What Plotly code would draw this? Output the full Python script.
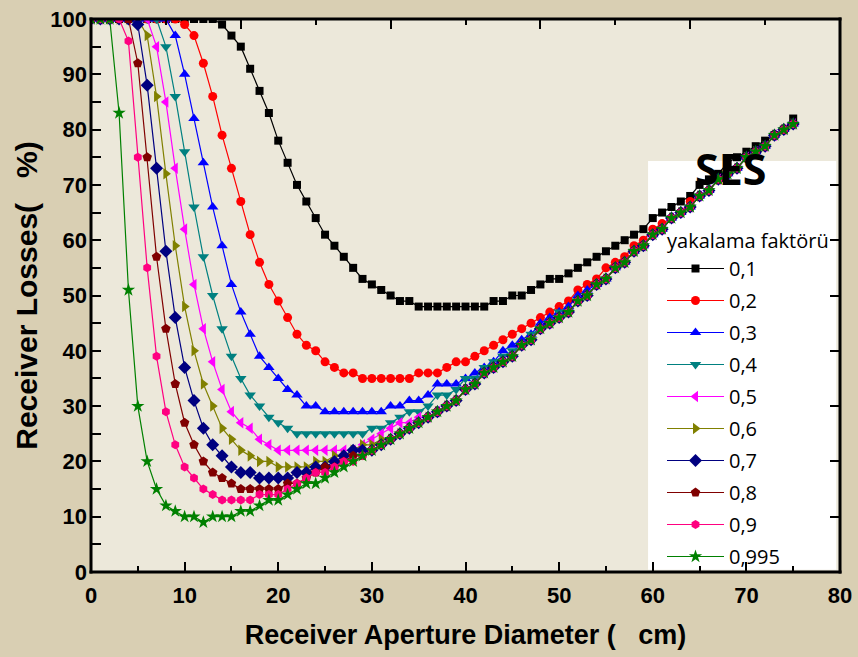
import plotly.graph_objects as go

diameter_cm = list(range(0, 76))
factor_labels = ["0,1", "0,2", "0,3", "0,4", "0,5", "0,6", "0,7", "0,8", "0,9", "0,995"]

loss_01 = [100, 100, 100, 100, 100, 100, 100, 100, 100, 100, 100, 100, 100, 100, 99, 97, 95, 91, 87, 83,
           78, 74, 70, 67, 64, 61, 59, 57, 55, 53, 52, 51, 50, 49, 49, 48, 48, 48, 48, 48,
           48, 48, 48, 49, 49, 50, 50, 51, 52, 53, 53, 54, 55, 56, 57, 58, 59, 60, 61, 62,
           64, 65, 66, 67, 68, 70, 71, 72, 74, 75, 76, 77, 78, 79, 80, 82]
loss_02 = [100, 100, 100, 100, 100, 100, 100, 100, 100, 100, 99, 97, 92, 86, 79, 73, 67, 61, 56, 52,
           49, 46, 43, 41, 40, 38, 37, 36, 36, 35, 35, 35, 35, 35, 35, 36, 36, 36, 37, 38,
           38, 39, 40, 41, 42, 43, 44, 45, 46, 47, 48, 49, 51, 52, 53, 55, 56, 57, 59, 60,
           62, 63, 64, 65, 67, 68, 69, 71, 72, 73, 75, 76, 77, 79, 80, 81]
loss_03 = [100, 100, 100, 100, 100, 100, 100, 100, 100, 97, 90, 82, 74, 66, 59, 52, 47, 43, 39, 37,
           35, 33, 32, 30, 30, 29, 29, 29, 29, 29, 29, 29, 30, 30, 31, 31, 32, 34, 34, 34,
           35, 36, 37, 38, 40, 41, 42, 43, 45, 46, 47, 48, 50, 51, 52, 53, 55, 56, 58, 59,
           61, 62, 64, 65, 66, 68, 69, 71, 72, 73, 75, 76, 77, 79, 80, 81]
loss_04 = [100, 100, 100, 100, 100, 100, 100, 100, 95, 86, 76, 66, 57, 50, 44, 39, 35, 32, 30, 28,
           27, 26, 25, 25, 25, 25, 25, 25, 25, 25, 26, 26, 27, 28, 29, 29, 30, 32, 32, 33,
           35, 35, 37, 38, 39, 40, 41, 43, 44, 45, 47, 47, 49, 50, 52, 53, 55, 56, 58, 59,
           61, 62, 64, 65, 66, 68, 69, 71, 72, 73, 75, 76, 77, 79, 80, 81]
loss_05 = [100, 100, 100, 100, 100, 100, 100, 95, 85, 73, 62, 52, 44, 38, 33, 29, 27, 26, 24, 23,
           22, 22, 22, 22, 22, 22, 22, 22, 22, 23, 24, 25, 26, 27, 27, 28, 28, 29, 30, 31,
           33, 34, 36, 37, 38, 39, 41, 42, 44, 45, 46, 47, 49, 50, 52, 53, 55, 56, 58, 59,
           61, 62, 64, 65, 66, 68, 69, 71, 72, 73, 75, 76, 77, 79, 80, 81]
loss_06 = [100, 100, 100, 100, 100, 100, 97, 86, 72, 59, 48, 40, 34, 30, 26, 24, 22, 21, 20, 20,
           19, 19, 19, 19, 20, 20, 21, 21, 22, 23, 23, 24, 24, 25, 26, 27, 28, 29, 30, 31,
           33, 34, 36, 37, 38, 39, 41, 42, 44, 45, 46, 47, 49, 50, 52, 53, 55, 56, 58, 59,
           61, 62, 64, 65, 66, 68, 69, 71, 72, 73, 75, 76, 77, 79, 80, 81]
loss_07 = [100, 100, 100, 100, 100, 99, 88, 73, 58, 46, 37, 31, 26, 23, 21, 19, 18, 18, 17, 17,
           17, 17, 18, 18, 19, 19, 20, 21, 22, 22, 22, 23, 24, 25, 26, 27, 28, 29, 30, 31,
           33, 34, 36, 37, 38, 39, 41, 42, 44, 45, 46, 47, 49, 50, 52, 53, 55, 56, 58, 59,
           61, 62, 64, 65, 66, 68, 69, 71, 72, 73, 75, 76, 77, 79, 80, 81]
loss_08 = [100, 100, 100, 100, 100, 92, 75, 57, 44, 34, 27, 23, 20, 18, 17, 16, 15, 15, 15, 15,
           15, 16, 16, 17, 18, 19, 19, 20, 21, 21, 22, 23, 24, 25, 26, 27, 28, 29, 30, 31,
           33, 34, 36, 37, 38, 39, 41, 42, 44, 45, 46, 47, 49, 50, 52, 53, 55, 56, 58, 59,
           61, 62, 64, 65, 66, 68, 69, 71, 72, 73, 75, 76, 77, 79, 80, 81]
loss_09 = [100, 100, 100, 100, 96, 75, 55, 39, 29, 23, 19, 17, 15, 14, 13, 13, 13, 13, 14, 14,
           14, 15, 16, 17, 18, 18, 19, 20, 20, 21, 22, 23, 24, 25, 26, 27, 28, 29, 30, 31,
           33, 34, 36, 37, 38, 39, 41, 42, 44, 45, 46, 47, 49, 50, 52, 53, 55, 56, 58, 59,
           61, 62, 64, 65, 66, 68, 69, 71, 72, 73, 75, 76, 77, 79, 80, 81]
loss_0995 = [100, 100, 100, 83, 51, 30, 20, 15, 12, 11, 10, 10, 9, 10, 10, 10, 11, 11, 12, 13,
             13, 14, 15, 16, 16, 17, 18, 19, 20, 21, 22, 23, 24, 25, 26, 27, 28, 29, 30, 31,
             33, 34, 36, 37, 38, 39, 41, 42, 44, 45, 46, 47, 49, 50, 52, 53, 55, 56, 58, 59,
             61, 62, 64, 65, 66, 68, 69, 71, 72, 73, 75, 76, 77, 79, 80, 81]

series = [loss_01, loss_02, loss_03, loss_04, loss_05, loss_06, loss_07, loss_08, loss_09, loss_0995]
colors = ["#000000", "#FF0000", "#0000FF", "#008080", "#FF00FF", "#808000",
          "#000080", "#800000", "#FF0080", "#008000"]
symbols = ["square", "circle", "triangle-up", "triangle-down", "triangle-left",
           "triangle-right", "diamond", "pentagon", "hexagon", "star"]
msizes = [8, 9, 10, 10, 10, 10, 10, 10, 9, 10]

fig = go.Figure()
for i, (lab, vals) in enumerate(zip(factor_labels, series)):
    fig.add_trace(go.Scatter(
        x=diameter_cm, y=vals, name=lab, mode="lines+markers",
        legendgroup=lab,
        line=dict(color=colors[i], width=1.2),
        marker=dict(symbol=symbols[i], color=colors[i], size=msizes[i], line=dict(width=0)),
    ))

# helper (empty) trace so the top/right tick axes get drawn
fig.add_trace(go.Scatter(x=[None], y=[None], xaxis="x2", yaxis="y2", showlegend=False,
                         hoverinfo="skip", mode="lines"))

tick_font = dict(family="Liberation Sans, Arial, sans-serif", size=22, color="#000000", weight="bold")
xtitle_font = dict(family="Liberation Sans, Arial, sans-serif", size=27, color="#000000", weight="bold")
ytitle_font = dict(family="Liberation Sans, Arial, sans-serif", size=30, color="#000000", weight="bold")
tickstyle = dict(ticks="inside", ticklen=10, tickwidth=2, tickcolor="#000000")

# plot-frame thickness as fractions of the plot area (3 px)
fx = 1.5 / 749
fy = 1.5 / 553
frame = [
    dict(x0=-fx, x1=fx, y0=-fy, y1=1 + fy),
    dict(x0=1 - fx, x1=1 + fx, y0=-fy, y1=1 + fy),
    dict(x0=-fx, x1=1 + fx, y0=-fy, y1=fy),
    dict(x0=-fx, x1=1 + fx, y0=1 - fy, y1=1 + fy),
]
frame_shapes = [dict(type="rect", xref="paper", yref="paper", fillcolor="#000000",
                     line=dict(width=0), layer="above", **f) for f in frame]

fig.update_layout(
    width=858, height=657,
    margin=dict(l=91, r=18, t=19, b=85, autoexpand=False),
    paper_bgcolor="#d9cfb3",
    plot_bgcolor="#ece8da",
    showlegend=True,
    legend=dict(
        x=(662 - 91) / 749, y=(572 - 249) / 553, xanchor="left", yanchor="top",
        bgcolor="rgba(0,0,0,0)", borderwidth=0, itemwidth=57,
        font=dict(family="Open Sans, Noto Sans, sans-serif", size=20, color="#000000"),
        tracegroupgap=3,
    ),
    xaxis=dict(
        range=[0, 80], dtick=10, tick0=0, showgrid=False, zeroline=False, showline=False,
        **tickstyle,
        minor=dict(dtick=5, ticks="inside", ticklen=6, tickwidth=2, tickcolor="#000000", showgrid=False),
        tickfont=tick_font, ticklabelstandoff=8,
        title=dict(text="Receiver Aperture Diameter (   cm)", font=xtitle_font, standoff=18),
    ),
    yaxis=dict(
        range=[0, 100], dtick=10, tick0=0, showgrid=False, zeroline=False, showline=False,
        **tickstyle,
        minor=dict(dtick=5, ticks="inside", ticklen=10, tickwidth=2, tickcolor="#000000", showgrid=False),
        tickfont=tick_font, ticklabelstandoff=3,
        title=dict(text="Receiver Losses(   %)", font=ytitle_font, standoff=3),
    ),
    xaxis2=dict(
        overlaying="x", side="top", anchor="y2", range=[0, 80], dtick=16, tick0=0,
        showgrid=False, zeroline=False, showticklabels=False, showline=False,
        **tickstyle,
        minor=dict(dtick=8, ticks="inside", ticklen=6, tickwidth=2, tickcolor="#000000", showgrid=False),
    ),
    yaxis2=dict(
        overlaying="y", side="right", anchor="x2", range=[0, 100], dtick=10, tick0=0,
        showgrid=False, zeroline=False, showticklabels=False, showline=False,
        **tickstyle,
    ),
    shapes=[
        dict(type="rect", xref="x", yref="y", x0=59.5, x1=79.6, y0=0.4, y1=74.3,
             fillcolor="#ffffff", line=dict(width=0), layer="below"),
    ] + frame_shapes,
    annotations=[
        dict(text="<b>SES</b>", x=68.3, y=73.0, xref="x", yref="y", showarrow=False,
             font=dict(family="Open Sans, Noto Sans, sans-serif", size=43, color="#000000")),
        dict(text="yakalama faktörü", x=(665 - 91.5) / 9.35, y=(572 - 240) / 5.53, xref="x", yref="y",
             xanchor="left", showarrow=False,
             font=dict(family="Open Sans, Noto Sans, sans-serif", size=20, color="#000000")),
    ],
)

fig.write_html("out.html", config={"displayModeBar": False},
               post_script="document.body.style.margin='0px';")
